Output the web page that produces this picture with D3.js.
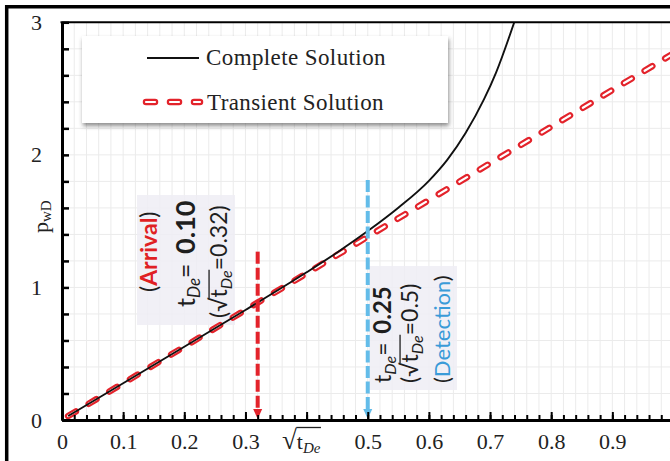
<!DOCTYPE html>
<html>
<head>
<meta charset="utf-8">
<script src="https://cdn.jsdelivr.net/npm/d3@7"></script>
<style>
  body { margin: 0; background: #fff; }
  svg { display: block; }
</style>
</head>
<body>
<svg id="chart" width="670" height="461"></svg>
<script>
// Dimensionless wellbore pressure against square root of dimensionless time
const transientSqrtT = [0.01, 0.1, 0.2, 0.3, 0.4, 0.5, 0.6, 0.7, 0.8, 0.9, 1.0];
const transientP     = [0.03, 0.277, 0.553, 0.83, 1.106, 1.383, 1.659, 1.936, 2.212, 2.489, 2.765];

const completeSqrtT = [0.01, 0.1, 0.2, 0.3, 0.4, 0.45, 0.5, 0.55, 0.6, 0.63, 0.66, 0.69, 0.71, 0.74];
const completeP     = [0.03, 0.277, 0.553, 0.83, 1.114, 1.264, 1.425, 1.601, 1.804, 1.962, 2.165, 2.418, 2.623, 3.006];

// Marked events (arrival of the pressure front, boundary detection)
const eventNames  = ["Arrival", "Detection"];
const eventSqrtT  = [0.32, 0.5];
const eventTop    = [1.27, 1.81];
const eventTDe    = ["0.10", "0.25"];
const eventSqrtLb = ["0.32", "0.5"];

// Axis ticks
const xMajorTicks  = [0, 0.1, 0.2, 0.3, 0.4, 0.5, 0.6, 0.7, 0.8, 0.9, 1.0];
const xMajorLabels = ["0", "0.1", "0.2", "0.3", "", "0.5", "0.6", "0.7", "0.8", "0.9", "1"];
const yMajorTicks  = [0, 1, 2, 3];
const yMajorLabels = ["0", "1", "2", "3"];

const legendLabels = ["Complete Solution", "Transient Solution"];

const SERIF = "'Liberation Serif', 'DejaVu Serif', serif";
const SANS = "Lato, 'Open Sans', sans-serif";
const RED = "#e3232b";
const BLUE = "#63bce9";
const INK = "#1e1e1e";

const svg = d3.select("#chart");
const x = d3.scaleLinear().domain([0, 1]).range([62, 673.5]);
const y = d3.scaleLinear().domain([0, 3]).range([420, 22.3]);

const defs = svg.append("defs");
defs.append("clipPath").attr("id", "plotClip")
  .append("rect").attr("x", 62).attr("y", y(3)).attr("width", 608).attr("height", y(0) - y(3));
const shadow = defs.append("filter").attr("id", "legendShadow")
  .attr("x", "-5%").attr("y", "-10%").attr("width", "112%").attr("height", "130%");
shadow.append("feDropShadow").attr("dx", 1).attr("dy", 3).attr("stdDeviation", 2)
  .attr("flood-color", "#444").attr("flood-opacity", 0.6);

// Fine grid
const grid = svg.append("g").attr("clip-path", "url(#plotClip)");
grid.selectAll("line.gv").data(d3.range(1, 51).map(i => i * 0.02)).join("line")
  .attr("class", "gv")
  .attr("x1", d => x(d)).attr("x2", d => x(d))
  .attr("y1", y(0)).attr("y2", y(3))
  .attr("stroke", "#ebebeb").attr("stroke-width", 1);
grid.selectAll("line.gh").data(d3.range(1, 15).map(i => i * 0.2)).join("line")
  .attr("class", "gh")
  .attr("x1", x(0)).attr("x2", 670)
  .attr("y1", d => y(d)).attr("y2", d => y(d))
  .attr("stroke", "#ebebeb").attr("stroke-width", 1);

// Shaded panels behind the event annotations
const panels = [[137, 195, 98, 130], [369, 266, 88, 124]];
svg.append("g").selectAll("rect").data(panels).join("rect")
  .attr("x", d => d[0]).attr("y", d => d[1]).attr("width", d => d[2]).attr("height", d => d[3])
  .attr("fill", "#eeedf5").attr("opacity", 0.85);

// Curves
const plot = svg.append("g").attr("clip-path", "url(#plotClip)");
const straight = d3.line().x(d => x(d[0])).y(d => y(d[1]));
const smooth = d3.line().x(d => x(d[0])).y(d => y(d[1])).curve(d3.curveMonotoneX);
const transient = transientSqrtT.map((v, i) => [v, transientP[i]]);
const complete = completeSqrtT.map((v, i) => [v, completeP[i]]);

plot.append("path").datum(transient).attr("d", straight)
  .attr("fill", "none").attr("stroke", RED).attr("stroke-width", 6.5)
  .attr("stroke-dasharray", "9 15").attr("stroke-linecap", "round");
plot.append("path").datum(transient).attr("d", straight)
  .attr("fill", "none").attr("stroke", "#fff").attr("stroke-width", 2.2)
  .attr("stroke-dasharray", "9 15").attr("stroke-linecap", "round");
plot.append("path").datum(complete).attr("d", smooth)
  .attr("fill", "none").attr("stroke", "#111").attr("stroke-width", 1.9);

// Event markers: dashed verticals with arrow heads on the axis
const eventColors = [RED, BLUE];
eventSqrtT.forEach((v, i) => {
  const g = svg.append("g");
  const px = x(v);
  g.append("line")
    .attr("x1", px).attr("x2", px)
    .attr("y1", y(eventTop[i])).attr("y2", y(0) - 9)
    .attr("stroke", eventColors[i]).attr("stroke-width", 4)
    .attr("stroke-dasharray", i === 0 ? "12 4" : "12 3.5");
  g.append("path")
    .attr("d", `M${px - 4.5},${y(0) - 11} L${px + 4.5},${y(0) - 11} L${px},${y(0) - 1} Z`)
    .attr("fill", eventColors[i]);
});

// Axes
const xMinor = d3.axisBottom(x).tickValues(d3.range(0, 51).map(i => i * 0.02))
  .tickSizeInner(-5).tickSizeOuter(0).tickFormat("");
const xMajor = d3.axisBottom(x).tickValues(xMajorTicks)
  .tickSizeInner(-8).tickSizeOuter(0).tickPadding(13)
  .tickFormat((d, i) => xMajorLabels[i]);
const gxMinor = svg.append("g").attr("transform", `translate(0,${y(0)})`).call(xMinor);
const gx = svg.append("g").attr("transform", `translate(0,${y(0)})`).call(xMajor);
[gxMinor, gx].forEach(g => {
  g.select(".domain").attr("stroke", "#000").attr("stroke-width", 3);
  g.selectAll(".tick line").attr("stroke", "#000").attr("stroke-width", 2);
});
gx.selectAll(".tick text").attr("font-family", SERIF).attr("font-size", 22).attr("fill", "#222");

const yMinor = d3.axisLeft(y).tickValues(d3.range(0, 16).map(i => i * 0.2))
  .tickSizeInner(-7).tickSizeOuter(0).tickFormat("");
const yMajor = d3.axisLeft(y).tickValues(yMajorTicks)
  .tickSizeInner(0).tickSizeOuter(0).tickPadding(20)
  .tickFormat((d, i) => yMajorLabels[i]);
const gyMinor = svg.append("g").attr("transform", `translate(${x(0)},0)`).call(yMinor);
const gy = svg.append("g").attr("transform", `translate(${x(0)},0)`).call(yMajor);
[gyMinor, gy].forEach(g => {
  g.select(".domain").attr("stroke", "#000").attr("stroke-width", 3);
  g.selectAll(".tick line").attr("stroke", "#000").attr("stroke-width", 2.5);
});
gy.selectAll(".tick text").attr("font-family", SERIF).attr("font-size", 22).attr("fill", "#222");

// Top border of the plot area
svg.append("line").attr("x1", x(0) - 1.5).attr("x2", 670).attr("y1", y(3)).attr("y2", y(3))
  .attr("stroke", "#000").attr("stroke-width", 2);

// Draws a radical bar over characters [from, to] of a text element
function radicalBar(parent, textSel, from, to, lift, color) {
  const node = textSel.node();
  const x0 = node.getStartPositionOfChar(from).x - 0.5;
  const x1 = node.getEndPositionOfChar(to).x + 0.5;
  const base = +textSel.attr("y") || 0;
  parent.append("line")
    .attr("x1", x0).attr("x2", x1)
    .attr("y1", base - lift).attr("y2", base - lift)
    .attr("stroke", color).attr("stroke-width", 1.3);
}

// Axis titles
const xtG = svg.append("g");
const xt = xtG.append("text").attr("x", 282).attr("y", 449)
  .attr("font-family", SERIF).attr("font-size", 22).attr("fill", "#222");
xt.append("tspan").attr("font-size", 27).text("√");
xt.append("tspan").text("t");
xt.append("tspan").attr("font-size", 15).attr("font-style", "italic").attr("dy", 4).text("De");
radicalBar(xtG, xt, 1, 3, 21.5, "#222");

const yt = svg.append("text").attr("transform", "translate(48,233) rotate(-90)")
  .attr("font-family", SERIF).attr("font-size", 22).attr("fill", "#222");
yt.append("tspan").text("p");
yt.append("tspan").attr("font-size", 15).attr("dy", 3).text("wD");

// Rotated event annotations
function eventGroup(bx, by) {
  return svg.append("g").attr("transform", `translate(${bx},${by}) rotate(-90)`);
}
function eventText(g, size) {
  return g.append("text").attr("x", 0).attr("y", 0)
    .attr("font-family", SANS).attr("font-size", size).attr("fill", INK);
}
function tLine(bx, by, size, valueSize, value) {
  const g = eventGroup(bx, by);
  const t = eventText(g, size);
  const sub = Math.round(size * 0.68);
  t.append("tspan").text("t");
  t.append("tspan").attr("font-size", sub).attr("font-style", "italic").attr("dy", 5).text("De");
  t.append("tspan").attr("dy", -5).text("=\u2009 ");
  t.append("tspan").attr("font-weight", "bold").attr("font-size", valueSize).text(value);
}
function sqrtLine(bx, by, size, value) {
  const g = eventGroup(bx, by);
  const t = eventText(g, size);
  const sub = Math.round(size * 0.68);
  t.append("tspan").text("(√");
  t.append("tspan").text("t");
  t.append("tspan").attr("font-size", sub).attr("font-style", "italic").attr("dy", 5).text("De");
  t.append("tspan").attr("dy", -5).text("=" + value + ")");
  radicalBar(g, t, 2, 4, size * 0.78, INK);
}
function nameLine(bx, by, size, name, color, bold) {
  const t = eventText(eventGroup(bx, by), size);
  t.append("tspan").text("(");
  t.append("tspan").attr("fill", color).attr("font-weight", bold ? "bold" : "normal").text(name);
  t.append("tspan").text(")");
}

// Arrival
nameLine(157, 292, 23, eventNames[0], "#e01f24", true);
tLine(195, 307, 25, 27, eventTDe[0]);
sqrtLine(227, 318, 23, eventSqrtLb[0]);

// Detection
tLine(391, 383, 23, 24, eventTDe[1]);
sqrtLine(418, 383, 23, eventSqrtLb[1]);
nameLine(450, 383, 22, eventNames[1], "#3a9bd8", false);

// Legend
const lg = svg.append("g");
lg.append("rect").attr("x", 82).attr("y", 36).attr("width", 366).attr("height", 87)
  .attr("fill", "#fff").attr("filter", "url(#legendShadow)");
lg.append("line").attr("x1", 147).attr("x2", 199).attr("y1", 58).attr("y2", 58)
  .attr("stroke", "#111").attr("stroke-width", 2);
lg.append("path").attr("d", "M146,102 L200,102")
  .attr("stroke", RED).attr("stroke-width", 6.5).attr("stroke-dasharray", "9 15").attr("stroke-linecap", "round");
lg.append("path").attr("d", "M146,102 L200,102")
  .attr("stroke", "#fff").attr("stroke-width", 2.2).attr("stroke-dasharray", "9 15").attr("stroke-linecap", "round");
lg.selectAll("text").data(legendLabels).join("text")
  .attr("x", (d, i) => i === 0 ? 206 : 207)
  .attr("y", (d, i) => i === 0 ? 65 : 110)
  .attr("font-family", SERIF).attr("font-size", 23).attr("letter-spacing", 0.4)
  .attr("fill", "#222")
  .text(d => d);

// Outer frame
svg.append("line").attr("x1", 6.5).attr("x2", 670).attr("y1", 6.7).attr("y2", 6.7)
  .attr("stroke", "#000").attr("stroke-width", 3.5);
svg.append("line").attr("x1", 6.7).attr("x2", 6.7).attr("y1", 5).attr("y2", 461)
  .attr("stroke", "#000").attr("stroke-width", 3.5);
</script>
</body>
</html>
